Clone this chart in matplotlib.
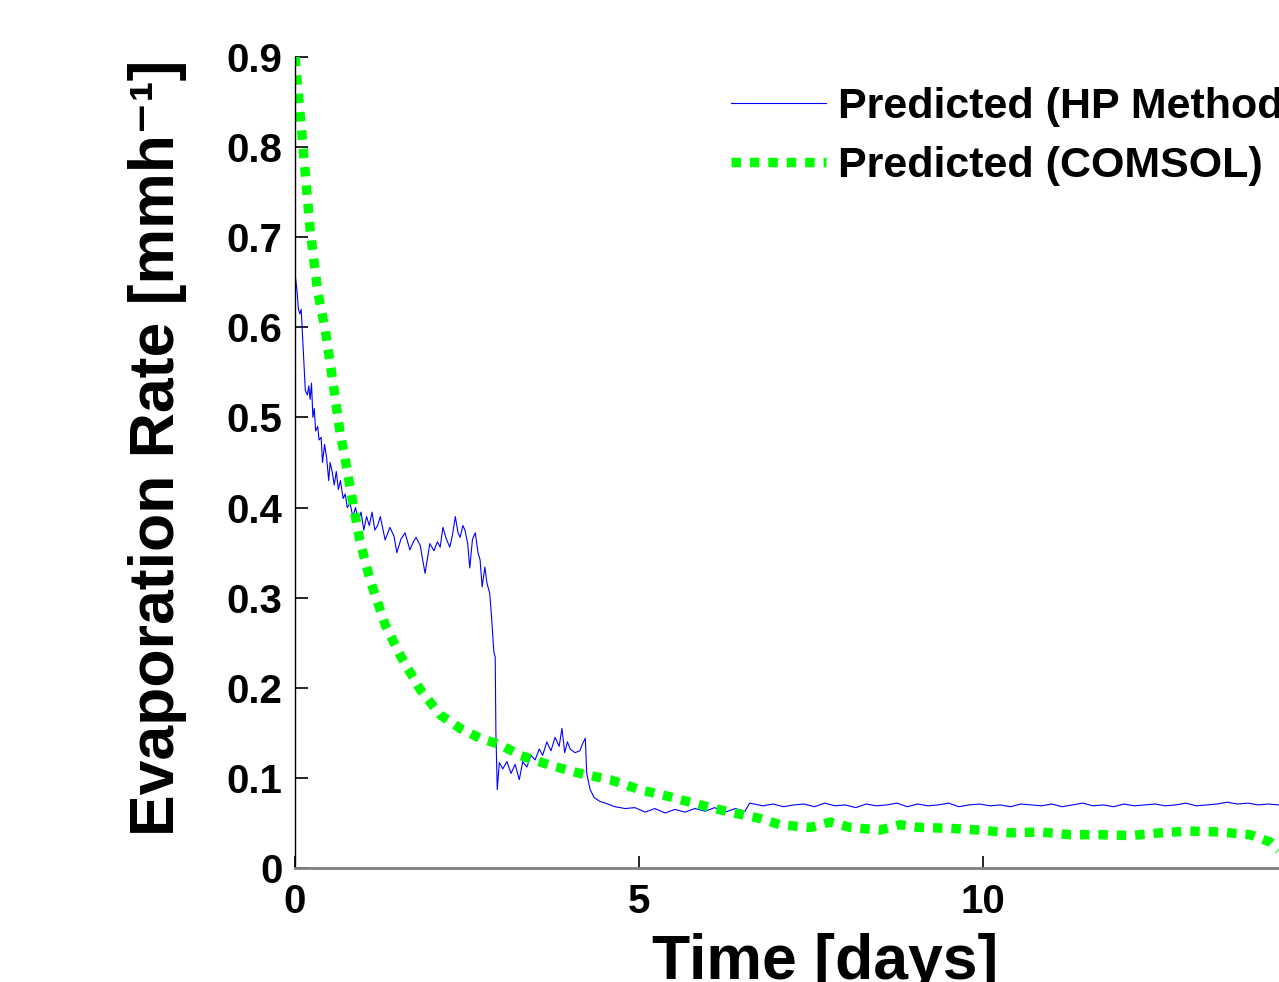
import matplotlib
matplotlib.use('Agg')
import matplotlib.pyplot as plt

plt.rcParams['font.family'] = ['Liberation Sans', 'DejaVu Sans']
plt.rcParams['font.weight'] = 'bold'

# HP method prediction (blue, noisy)
hp_days = [0, 0, 0.03, 0.05, 0.07, 0.09, 0.12, 0.15, 0.18, 0.20,
           0.22, 0.24, 0.26, 0.28, 0.30, 0.33, 0.35, 0.38, 0.40, 0.43,
           0.46, 0.49, 0.51, 0.54, 0.57, 0.60, 0.63, 0.66, 0.70, 0.73,
           0.76, 0.80, 0.84, 0.88, 0.92, 0.96, 1.00, 1.04, 1.08, 1.12,
           1.16, 1.20, 1.24, 1.31, 1.38, 1.44, 1.48, 1.54, 1.60, 1.67,
           1.72, 1.76, 1.82, 1.89, 1.96, 2.02, 2.07, 2.11, 2.15, 2.20,
           2.25, 2.29, 2.33, 2.37, 2.40, 2.44, 2.47, 2.51, 2.54, 2.58,
           2.62, 2.66, 2.69, 2.72, 2.76, 2.79, 2.83, 2.86, 2.89, 2.91,
           2.92, 2.94, 2.97, 3.02, 3.08, 3.14, 3.20, 3.26, 3.31, 3.37,
           3.43, 3.49, 3.55, 3.60, 3.66, 3.72, 3.78, 3.84, 3.88, 3.92,
           3.96, 4.00, 4.07, 4.14, 4.18, 4.22, 4.24, 4.29, 4.35, 4.43,
           4.51, 4.65, 4.80, 4.94, 5.09, 5.23, 5.38, 5.52, 5.67, 5.81,
           5.96, 6.10, 6.25, 6.40, 6.54, 6.61, 6.80, 6.95, 7.10, 7.25,
           7.40, 7.55, 7.70, 7.85, 8.00, 8.15, 8.30, 8.45, 8.60, 8.75,
           8.90, 9.05, 9.20, 9.35, 9.50, 9.65, 9.80, 9.95, 10.10, 10.25,
           10.40, 10.55, 10.70, 10.85, 11.00, 11.15, 11.30, 11.45, 11.60, 11.75,
           11.90, 12.05, 12.20, 12.35, 12.50, 12.65, 12.80, 12.95, 13.10, 13.25,
           13.40, 13.55, 13.70, 13.85, 14.00, 14.15, 14.30]
hp_rate = [0, 0.66, 0.64, 0.62, 0.615, 0.62, 0.575, 0.53, 0.525, 0.535,
           0.52, 0.538, 0.50, 0.51, 0.485, 0.49, 0.475, 0.478, 0.45, 0.47,
           0.455, 0.43, 0.45, 0.44, 0.425, 0.44, 0.42, 0.43, 0.41, 0.415,
           0.40, 0.405, 0.39, 0.40, 0.385, 0.395, 0.375, 0.39, 0.38, 0.395,
           0.375, 0.38, 0.39, 0.364, 0.378, 0.368, 0.35, 0.365, 0.372, 0.353,
           0.362, 0.367, 0.358, 0.327, 0.36, 0.352, 0.362, 0.356, 0.378, 0.365,
           0.356, 0.37, 0.39, 0.372, 0.367, 0.38, 0.375, 0.36, 0.333, 0.365,
           0.372, 0.35, 0.342, 0.312, 0.334, 0.316, 0.305, 0.275, 0.24, 0.234,
           0.15, 0.087, 0.117, 0.11, 0.118, 0.105, 0.115, 0.098, 0.118, 0.112,
           0.125, 0.12, 0.132, 0.125, 0.14, 0.13, 0.145, 0.135, 0.155, 0.128,
           0.14, 0.132, 0.128, 0.13, 0.138, 0.144, 0.105, 0.087, 0.078, 0.074,
           0.072, 0.068, 0.066, 0.067, 0.062, 0.066, 0.061, 0.065, 0.062, 0.066,
           0.063, 0.067, 0.062, 0.066, 0.063, 0.072, 0.069, 0.071, 0.068, 0.07,
           0.071, 0.068, 0.072, 0.069, 0.07, 0.067, 0.071, 0.069, 0.07, 0.072,
           0.068, 0.071, 0.069, 0.07, 0.072, 0.068, 0.07, 0.071, 0.069, 0.07,
           0.068, 0.071, 0.07, 0.069, 0.071, 0.068, 0.07, 0.072, 0.069, 0.07,
           0.068, 0.071, 0.069, 0.07, 0.071, 0.069, 0.07, 0.072, 0.069, 0.07,
           0.071, 0.073, 0.071, 0.072, 0.07, 0.071, 0.07]

# COMSOL prediction (green, dotted)
comsol_days = [0, 0.12, 0.22, 0.33, 0.44, 0.55, 0.65, 0.73, 0.83, 0.94,
               1.09, 1.31, 1.53, 1.82, 2.11, 2.40, 2.69, 2.98, 3.27, 3.71,
               4.14, 4.58, 5.01, 5.45, 5.89, 6.32, 6.76, 7.05, 7.49, 7.78,
               8.07, 8.50, 8.79, 9.08, 9.52, 9.96, 10.39, 10.83, 11.26, 11.70,
               12.14, 12.57, 13.00, 13.44, 13.88, 14.17, 14.30]
comsol_rate = [0.9, 0.797, 0.708, 0.64, 0.597, 0.54, 0.486, 0.453, 0.41, 0.364,
               0.32, 0.27, 0.236, 0.198, 0.17, 0.155, 0.144, 0.137, 0.125, 0.114,
               0.105, 0.098, 0.087, 0.079, 0.07, 0.062, 0.055, 0.048, 0.045, 0.051,
               0.045, 0.042, 0.048, 0.045, 0.044, 0.042, 0.039, 0.04, 0.037, 0.037,
               0.036, 0.039, 0.041, 0.04, 0.037, 0.029, 0.02]

xticks = [0, 5, 10]
yticks = [0, 0.1, 0.2, 0.3, 0.4, 0.5, 0.6, 0.7, 0.8, 0.9]
ytick_labels = ['0', '0.1', '0.2', '0.3', '0.4', '0.5', '0.6', '0.7', '0.8', '0.9']

fig = plt.figure(figsize=(12.79, 9.82), dpi=100)
ax = fig.add_axes([295/1279, 1 - 868/982, 1059.5/1279, 811/982])

ax.plot(hp_days, hp_rate, color='#0000ff', lw=0.8, label='Predicted (HP Method)')
ax.plot(comsol_days, comsol_rate, color='#00ff00', lw=6.8,
        linestyle=(0, (1.0, 0.95)), label='Predicted (COMSOL)')

ax.set_xlim(0, 15.4)
ax.set_ylim(0, 0.9)
ax.set_xticks(xticks)
ax.set_xticklabels([str(v) for v in xticks])
ax.set_yticks(yticks)
ax.set_yticklabels(ytick_labels)
ax.tick_params(axis='both', direction='in', labelsize=29, length=9, width=1.2)
ax.tick_params(axis='y', pad=9)
ax.tick_params(axis='x', pad=11)

for side in ['top', 'right']:
    ax.spines[side].set_visible(False)
ax.spines['bottom'].set_color('#808080')
ax.spines['bottom'].set_linewidth(2)
ax.spines['left'].set_linewidth(1)

ax.set_xlabel('Time [days]', fontsize=45, fontweight='bold')
ax.xaxis.set_label_coords(0.5, -0.080)
ax.set_ylabel('Evaporation Rate [mmh\u207b\u00b9]', fontsize=45,
              fontweight='bold')
ax.yaxis.set_label_coords(-0.102, 0.518)

ax.legend(loc='upper left', bbox_to_anchor=(731/1279, 1 - 87/982),
          bbox_transform=fig.transFigure, frameon=False, fontsize=31,
          handlelength=2.2, handletextpad=0.28, labelspacing=0.44,
          borderpad=0, borderaxespad=0)

fig.savefig('out.png', dpi=100)
